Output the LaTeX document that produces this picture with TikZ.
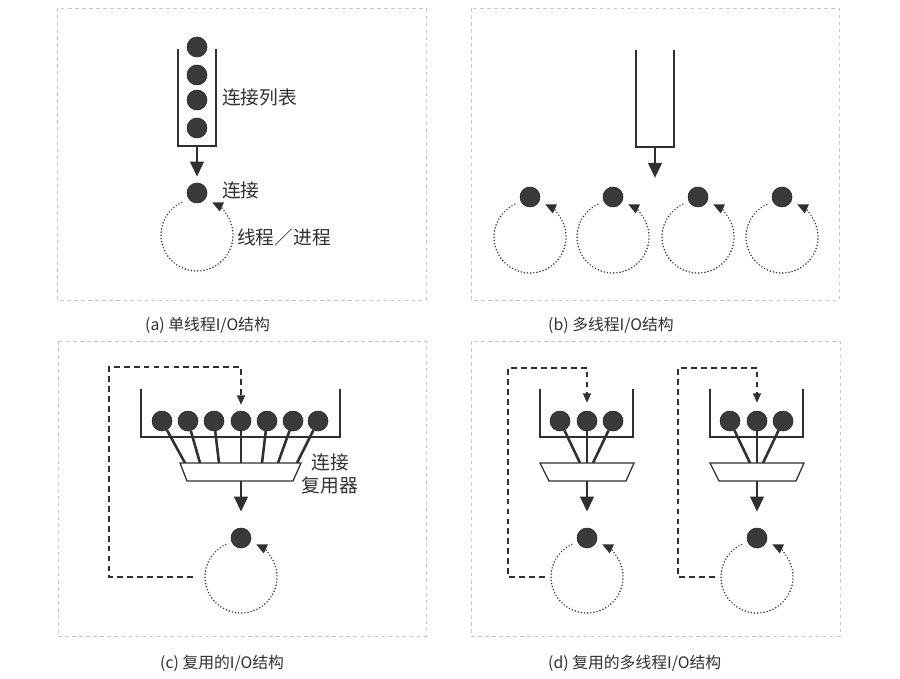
\documentclass[tikz,border=0pt]{standalone}
\usepackage{fontspec}
\usepackage{tikz}
\usetikzlibrary{arrows.meta}
\newfontfamily\cjk{Noto Sans CJK SC}
\definecolor{ballgray}{HTML}{3A3A3A}
\definecolor{inkgray}{HTML}{303030}

\tikzset{
  ball/.style={circle, fill=ballgray, draw=black!85, line width=0.5pt, minimum size=0.6cm, inner sep=0pt},
  panel/.style={draw=gray!45, line width=0.6pt, dash pattern=on 3pt off 3pt},
  wall/.style={draw=inkgray, line width=1.1pt},
  stem/.style={draw=inkgray, line width=2.2pt},
  mainarrow/.style={draw=inkgray, line width=2.4pt, -{Triangle[length=4.5mm, width=4mm]}},
  threadloop/.style={draw=inkgray, line width=1.4pt, line cap=round, dash pattern=on 0pt off 2.7pt,
    -{Triangle[length=3.2mm, width=2.9mm]}},
  feedback/.style={draw=inkgray, line width=1.1pt, dash pattern=on 5pt off 3.5pt,
    -{Triangle[length=2.8mm, width=2.4mm]}},
  lbl/.style={font=\cjk\fontsize{16}{19}\selectfont, inner sep=0pt, text=inkgray},
  captxt/.style={font=\cjk\fontsize{13.5}{15}\selectfont, inner sep=0pt, text=inkgray, anchor=west}
}

\begin{document}
\begin{tikzpicture}[x=0.03cm, y=-0.03cm]
  \useasboundingbox (0,0) rectangle (900,679);

  % (a) single thread
  \draw[panel] (57,8) rectangle (426,300);
  \draw[wall] (178,49) |- (216,146) -- (216,49);
  \foreach \y [count=\i] in {47,75,100,128}
    \node[ball] (qa\i) at (197,\y) {};
  \coordinate (qa) at (197,146);
  \node[ball] (ca) at (197,193) {};
  \draw[mainarrow, shorten >=1.8mm] (qa) -- (ca);
  \draw[threadloop] (197,235) ++(-115:36) arc[start angle=-115, end angle=-425, radius=36];
  \node[lbl, anchor=west] (lista) at (222,97) {连接列表};
  \node[lbl, anchor=west] (conna) at (222,190) {连接};
  \node[lbl, anchor=west] (thra) at (237,237) {线程／进程};
  \node[captxt] (capa) at (145,325) {(a) 单线程I/O结构};

  % (b) multi thread
  \draw[panel] (471,8) rectangle (839,300);
  \draw[wall] (636,50) |- (674,147) -- (674,50);
  \coordinate (qb) at (655,147);
  \coordinate (qbt) at (655,178);
  \draw[mainarrow] (qb) -- (qbt);
  \foreach \x [count=\i] in {530,613,698,782} {
    \node[ball] (cb\i) at (\x,197) {};
    \draw[threadloop] (\x,237) ++(-115:36) arc[start angle=-115, end angle=-425, radius=36];
  }
  \node[captxt] (capb) at (548,325) {(b) 多线程I/O结构};

  % (c) multiplexed
  \draw[panel] (58,341) rectangle (426,636);
  \draw[wall] (141,389) |- (340,437) -- (340,389);
  \foreach \x/\t [count=\i] in {162/185,188/200,214/219,241/241,267/262,293/278,318/297} {
    \node[ball] (mc\i) at (\x,421) {};
    \coordinate (mt\i) at (\t,463);
    \draw[stem] (mc\i) -- (mt\i);
  }
  \draw[wall, fill=white] (180,463) -- (301,463) -- (293,481) -- (187,481) -- cycle;
  \coordinate (mxc) at (241,481);
  \node[ball] (cc) at (241,538) {};
  \draw[mainarrow, shorten >=4.8mm] (mxc) -- (cc);
  \draw[threadloop] (241,577) ++(-115:36) arc[start angle=-115, end angle=-425, radius=36];
  \coordinate (fbc) at (193,577);
  \draw[feedback, shorten >=1.8mm] (fbc) -| (109,367) -| (mc4);
  \node[lbl, align=center] (muxc) at (330,474) {连接\\复用器};
  \node[captxt] (capc) at (160,663) {(c) 复用的I/O结构};

  % (d) multiplexed, multi thread
  \draw[panel] (471,341) rectangle (840,636);
  \foreach \o [count=\k] in {0,170} {
    \begin{scope}[shift={(\o,0)}]
      \draw[wall] (540,389) |- (633,437) -- (633,389);
      \foreach \x/\t [count=\i] in {560/580,587/587,613/593} {
        \node[ball] (d\k b\i) at (\x,421) {};
        \coordinate (d\k t\i) at (\t,463);
        \draw[stem] (d\k b\i) -- (d\k t\i);
      }
      \draw[wall, fill=white] (540,463) -- (634,463) -- (626,481) -- (549,481) -- cycle;
      \coordinate (d\k m) at (587,481);
      \node[ball] (d\k c) at (587,538) {};
      \draw[mainarrow, shorten >=4.8mm] (d\k m) -- (d\k c);
      \draw[threadloop] (587,577) ++(-115:36) arc[start angle=-115, end angle=-425, radius=36];
      \coordinate (d\k f) at (545,577);
      \draw[feedback, shorten >=2.4mm] (d\k f) -| (508,368) -| (d\k b2);
    \end{scope}
  }
  \node[captxt] (capd) at (548,663) {(d) 复用的多线程I/O结构};
\end{tikzpicture}
\end{document}
